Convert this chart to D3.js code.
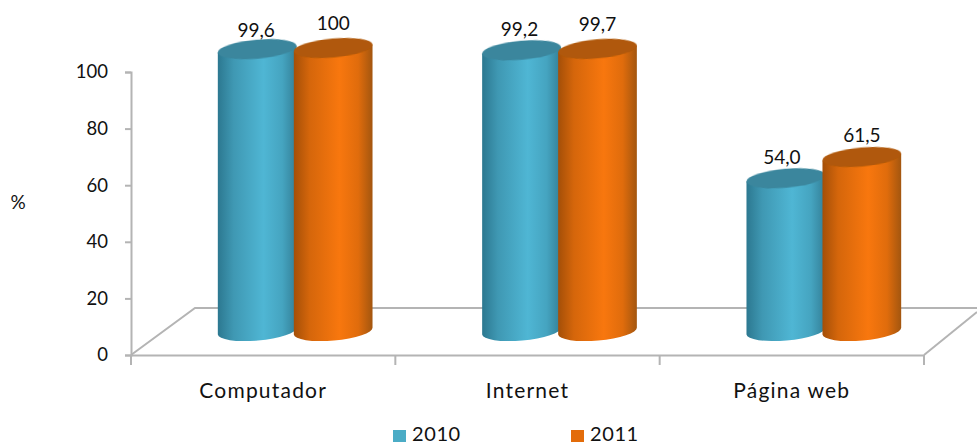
<!DOCTYPE html>
<html><head><meta charset="utf-8">
<script src="https://cdn.jsdelivr.net/npm/d3@7"></script>
<style>html,body{margin:0;padding:0;background:#fff;overflow:hidden}svg{display:block}
text{font-family:Lato,"Noto Sans",sans-serif;fill:#111}</style></head>
<body><svg id="c" width="977" height="444"></svg>
<script>
const categories = ["Computador","Internet","Página web"];
const seriesNames = ["2010","2011"];
const values2010 = [99.6,99.2,54.0];
const values2011 = [100,99.7,61.5];
const labels2010 = ["99,6","99,2","54,0"];
const labels2011 = ["100","99,7","61,5"];
const yTicks = [0,20,40,60,80,100];

const labelLift2010 = [12,14,14];
const labelLift2011 = [18,18,15];
const labelNudge2010 = [-1,-2,-4];
const labelNudge2011 = [0,0,0];
const W=977,H=444;
const svg=d3.select("#c");
const y=d3.scaleLinear().domain([0,100]).range([355,72]);
const x=d3.scaleBand().domain(categories).range([131,924]);
const floorDepth=24, rx=39.5, ry=9.5, tilt=-5;
const dx=rx*Math.cos(tilt*Math.PI/180), dy=rx*Math.sin(tilt*Math.PI/180);

const colors=[
 {edgeL:"#2c7890",mid:"#4fb6d4",edgeR:"#337f97",top:"#3a869d"},
 {edgeL:"#a44f08",mid:"#f8770e",edgeR:"#a3560f",top:"#b05808"}];
const defs=svg.append("defs");
colors.forEach((c,i)=>{
  const g=defs.append("linearGradient").attr("id","g"+i);
  [[0,c.edgeL],[.2,i?"#d5660b":"#3f98b3"],[.58,c.mid],[.82,i?"#e06c0c":"#45a4c0"],[1,c.edgeR]]
   .forEach(s=>g.append("stop").attr("offset",s[0]).attr("stop-color",s[1]));
});
defs.append("filter").attr("id","soft").append("feGaussianBlur").attr("stdDeviation",0.5);

// floor
const grey="#b4b4b4";
const fl=svg.append("g").attr("fill","none").attr("stroke",grey).attr("stroke-width",2);
const y0=y(0), backY=y0-47;
fl.append("path").attr("d",d3.line()([[x.range()[0],y0],[x.range()[0]+64,backY],[W,backY]]));
fl.append("path").attr("d",d3.line()([[x.range()[1],y0],[W,y0-43]]));

// axes
const ax=svg.append("g").attr("transform",`translate(${x.range()[0]},0)`)
  .call(d3.axisLeft(y).tickValues(yTicks).tickSize(6).tickPadding(17).tickFormat(d3.format("d")));
const bx=svg.append("g").attr("transform",`translate(0,${y0})`)
  .call(d3.axisBottom(x).tickSize(0).tickPadding(26));
bx.selectAll(".tick").select("line").remove();
bx.selectAll(".tick text").attr("dy","0.8em").attr("letter-spacing",1.2);
bx.selectAll("g.edgeTick").data(d3.range(categories.length+1)).enter().append("line")
  .attr("x1",d=>x.range()[0]+d*x.step()).attr("x2",d=>x.range()[0]+d*x.step())
  .attr("y1",0).attr("y2",10).attr("stroke",grey).attr("stroke-width",2);
[ax,bx].forEach(a=>{a.selectAll("path.domain").attr("stroke",grey).attr("stroke-width",2);
  a.selectAll("line").attr("stroke",grey).attr("stroke-width",2);
  a.selectAll("text").attr("font-size",a===ax?18.5:21).attr("font-family","Lato").attr("fill","#111");});

// cylinders
const offs=[-38,38];
const shift=32;
function cyl(g,cx,v,si){
  const by=y(0)-floorDepth, ty=y(v)-floorDepth;
  g.append("path").attr("fill",`url(#g${si})`).attr("d",
   `M${cx-dx},${ty-dy}L${cx-dx},${by-dy}A${rx},${ry} ${tilt} 0 0 ${cx+dx},${by+dy}L${cx+dx},${ty+dy}Z`);
  g.append("ellipse").attr("transform",`rotate(${tilt} ${cx} ${ty})`)
   .attr("cx",cx).attr("cy",ty).attr("rx",rx).attr("ry",ry).attr("fill",colors[si].top).attr("filter","url(#soft)");
}
const bars=svg.append("g");
[values2010,values2011].forEach((vals,si)=>{
  vals.forEach((v,i)=>cyl(bars,x(categories[i])+x.bandwidth()/2+shift+offs[si],v,si));
});
// labels
[[values2010,labels2010,labelLift2010,labelNudge2010],[values2011,labels2011,labelLift2011,labelNudge2011]].forEach((s,si)=>{
  s[0].forEach((v,i)=>{
    svg.append("text").attr("x",x(categories[i])+x.bandwidth()/2+shift+offs[si]+s[3][i])
      .attr("y",y(v)-floorDepth-s[2][i]).attr("text-anchor","middle").attr("font-size",19).text(s[1][i]);
  });
});
// y title
svg.append("text").attr("x",18).attr("y",209).attr("text-anchor","middle").attr("font-size",19).text("%");
// legend
const lx=d3.scalePoint().domain(seriesNames).range([393,571]);
seriesNames.forEach((n,i)=>{
  svg.append("rect").attr("x",lx(n)).attr("y",430).attr("width",13).attr("height",12).attr("fill",i?"#e36c0a":"#4bacc6");
  svg.append("text").attr("x",lx(n)+19).attr("y",441).attr("font-size",20).attr("letter-spacing",0.6).text(n);
});
</script></body></html>
